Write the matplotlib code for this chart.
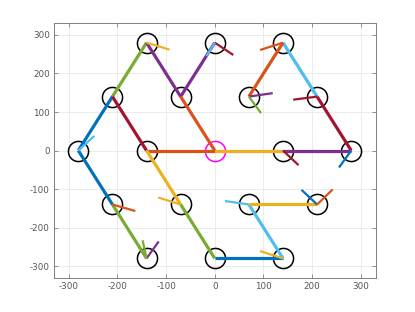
import matplotlib
matplotlib.use("Agg")
import matplotlib.pyplot as plt

# Node positions (hexagonal lattice)
node_x = [-140, 0, 140, -210, -70, 70, 210, -280, -140, 140, 280, -210, -70, 70, 210, -140, 0, 140]
node_y = [280, 280, 280, 140, 140, 140, 140, 0, 0, 0, 0, -140, -140, -140, -140, -280, -280, -280]
center_x = [0]
center_y = [0]

C = {"blue": "#0072BD", "orange": "#D95319", "yellow": "#EDB120", "purple": "#7E2F8E",
     "green": "#77AC30", "lblue": "#4DBEEE", "dred": "#A2142F"}

# Thick edges
edge_x0 = [-280, -210, -140, -70, -70, -210, -140, 0, 140, 280, 210, 140, -140, -280, -210, -70, 0, 140, 70]
edge_y0 = [0, 140, 280, 140, 140, 140, 0, 0, 0, 0, 140, 280, 0, 0, -140, -140, -280, -280, -140]
edge_x1 = [-210, -140, -70, 0, 0, -140, 0, 140, 280, 210, 140, 70, -70, -210, -140, 0, 140, 70, 210]
edge_y1 = [140, 280, 140, 280, 0, 0, 0, 0, 0, 140, 280, 140, -140, -140, -280, -280, -280, -140, -140]
edge_c = ["blue", "green", "purple", "purple", "orange", "dred", "orange", "yellow", "purple", "dred",
          "lblue", "orange", "yellow", "blue", "green", "green", "blue", "lblue", "yellow"]

# Short stubs
stub_x0 = [-140, 0, 0, 140, 70, 70, 210, 140, 280, -280, -210, -140, -140, -70, 70, 210, 210, 140]
stub_y0 = [280, 280, 280, 280, 140, 140, 140, 0, 0, 0, -140, -280, -280, -140, -140, -140, -140, -280]
stub_x1 = [-93, 38, -17, 93, 119, 95, 161, 172, 255, -247, -163, -115, -148, -116, 21, 178, 242, 93]
stub_y1 = [262, 248, 245, 261, 149, 97, 132, -38, -44, 38, -157, -236, -233, -122, -131, -102, -101, -261]
stub_c = ["yellow", "dred", "lblue", "orange", "purple", "green", "dred", "dred", "blue", "lblue",
          "orange", "purple", "green", "yellow", "lblue", "blue", "orange", "yellow"]

fig = plt.figure(figsize=(4.15, 3.12), dpi=100)
ax = fig.add_axes([0.13, 0.11, 0.775, 0.815])

ax.plot(node_x, node_y, "o", ms=14.5, mfc="none", mec="black", mew=1.1, zorder=2, ls="none")
ax.plot(center_x, center_y, "o", ms=14.5, mfc="none", mec="#FF00FF", mew=1.1, zorder=2, ls="none")

for x0, y0, x1, y1, c in zip(edge_x0, edge_y0, edge_x1, edge_y1, edge_c):
    ax.plot([x0, x1], [y0, y1], color=C[c], lw=2.3, solid_capstyle="butt", zorder=3)
for x0, y0, x1, y1, c in zip(stub_x0, stub_y0, stub_x1, stub_y1, stub_c):
    ax.plot([x0, x1], [y0, y1], color=C[c], lw=1.6, solid_capstyle="butt", zorder=4)

ax.set_xlim(-330, 330)
ax.set_ylim(-330, 330)
ticks = [-300, -200, -100, 0, 100, 200, 300]
ax.set_xticks(ticks)
ax.set_yticks(ticks)
ax.set_xticklabels([str(t) for t in ticks])
ax.set_yticklabels([str(t) for t in ticks])
ax.grid(True, color="#ebebeb", lw=0.7, zorder=0)
ax.set_axisbelow(True)
ax.tick_params(direction="in", top=True, right=True, length=3, width=0.6,
               labelsize=6.3, colors="#808080", labelcolor="#555555", pad=3)
for s in ax.spines.values():
    s.set_color("#808080")
    s.set_linewidth(0.7)

fig.savefig("out.png", dpi=100)
